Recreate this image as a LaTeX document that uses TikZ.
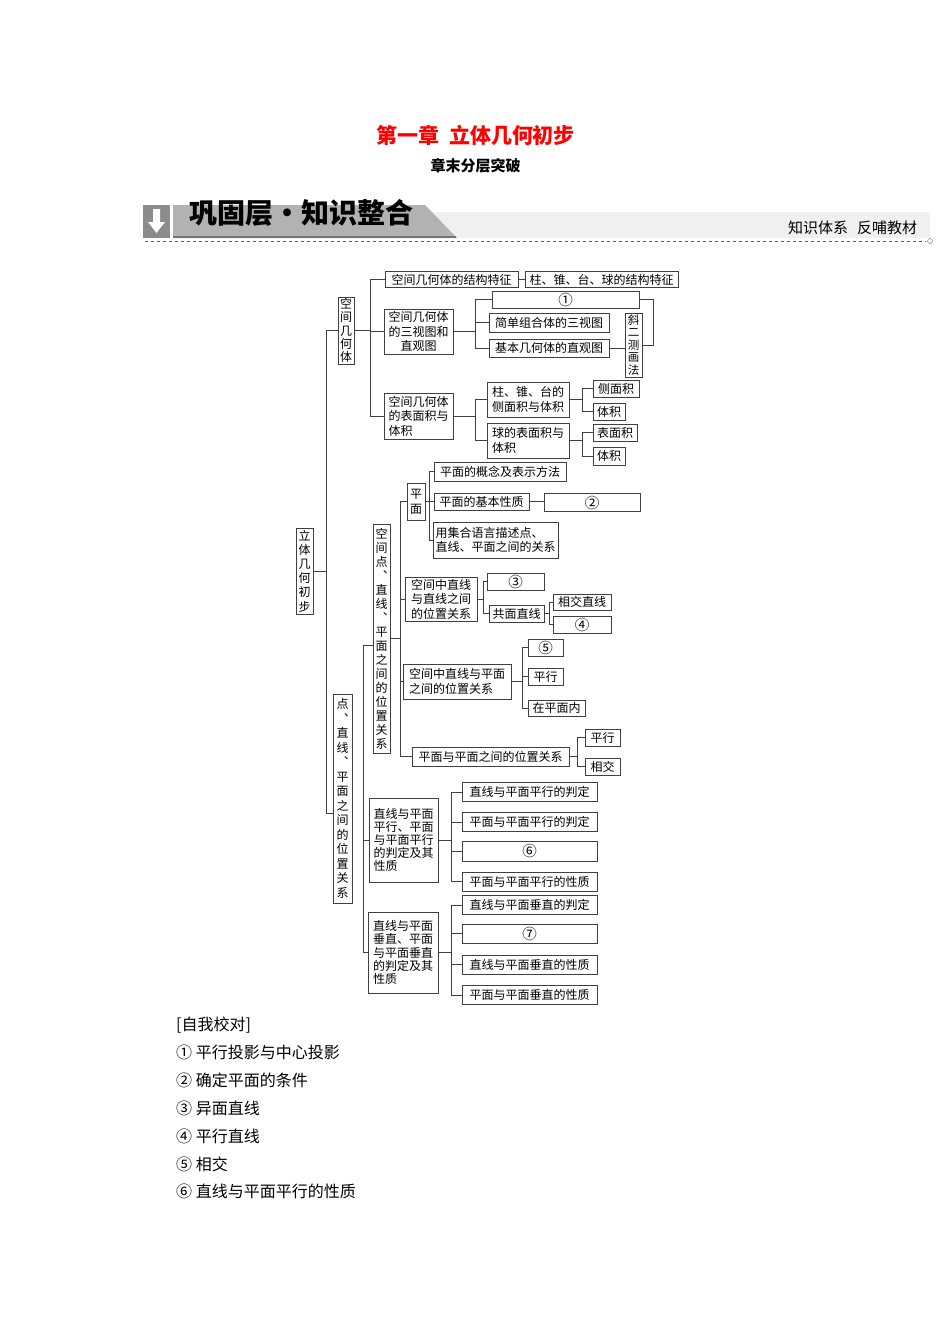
\documentclass[tikz,border=0pt]{standalone}
\usepackage{fontspec}
\setmainfont{Noto Sans CJK SC}
\tikzset{
    kbox/.style={draw=black!75, line width=0.8pt, inner sep=1pt, align=center, font=\fontsize{12}{14.5}\selectfont},
    lbox/.style={kbox, align=left},
    nbox/.style={kbox, font=\fontsize{14.5}{15}\selectfont},
    link/.style={draw=black!75, line width=0.8pt},
}
\begin{document}
\begin{tikzpicture}[x=1pt, y=-1pt]
        \fill[white] (0,0) rectangle (950,1344);
        \useasboundingbox (0,0) rectangle (950,1344);
        \node[red, font=\fontsize{21}{24}\selectfont\bfseries] (title) at (475.5,135) {第一章\hspace{10pt}立体几何初步};
        \node[font=\fontsize{15}{18}\selectfont\bfseries] (subtitle) at (475.5,166) {章末分层突破};
        \fill[black!6] (430,212) rectangle (930,238);
        \fill[black!45] (143,205) rectangle (170,238);
        \fill[white] (153,209) -- (160,209) -- (160,222) -- (165,222) -- (156.5,233) -- (148,222) -- (153,222) -- cycle;
        \fill[black!30] (173,205) -- (425,205) -- (457,238) -- (173,238) -- cycle;
        \draw[black!55, line width=1.5pt] (173,237) -- (456,237);
        \node[font=\fontsize{28}{30}\selectfont\bfseries] (band) at (301.5,213) {巩固层・知识整合};
        \draw[black!60, dashed, line width=0.8pt] (145,241) -- (926,241);
        \draw[black!60] (930,241) circle (2.5);
        \node[font=\fontsize{15}{17}\selectfont] (tixi) at (852.5,228) {知识体系\hspace{9pt}反哺教材};
        \node[kbox, minimum width=17pt, minimum height=86pt, font=\fontsize{12}{14.2}\selectfont] (ltj) at (304.5,571) {立\\体\\几\\何\\初\\步};
        \node[kbox, minimum width=16pt, minimum height=67pt, font=\fontsize{12}{13.2}\selectfont] (kjj) at (346,330.5) {空\\间\\几\\何\\体};
        \node[kbox, minimum width=133pt, minimum height=16pt] (jgtz) at (451.5,279.5) {空间几何体的结构特征};
        \node[kbox, minimum width=153pt, minimum height=16pt] (zhu) at (601.5,279.5) {柱、锥、台、球的结构特征};
        \node[kbox, minimum width=69pt, minimum height=45pt] (sst) at (418.5,331.5) {空间几何体\\的三视图和\\直观图};
        \node[nbox, minimum width=147pt, minimum height=17pt] (n1) at (565.5,299.5) {①};
        \node[kbox, minimum width=120pt, minimum height=19pt] (jdzh) at (549,322.5) {简单组合体的三视图};
        \node[kbox, minimum width=120pt, minimum height=18pt] (jbjh) at (549,348) {基本几何体的直观图};
        \node[kbox, minimum width=17pt, minimum height=64pt, font=\fontsize{11.5}{12.4}\selectfont] (xie) at (633.5,345) {斜\\二\\测\\画\\法};
        \node[lbox, minimum width=69pt, minimum height=46pt] (bmj) at (418.5,416) {空间几何体\\的表面积与\\体积};
        \node[kbox, minimum width=82pt, minimum height=35pt, font=\fontsize{12}{15}\selectfont] (zzt) at (528,399.5) {柱、锥、台的\\侧面积与体积};
        \node[lbox, minimum width=82pt, minimum height=35pt, font=\fontsize{12}{15}\selectfont] (qbm) at (528,440.5) {球的表面积与\\体积};
        \node[kbox, minimum width=46pt, minimum height=17pt] (cmj) at (616,388.5) {侧面积};
        \node[kbox, minimum width=32pt, minimum height=17pt] (tja) at (609,411.5) {体积};
        \node[kbox, minimum width=44pt, minimum height=17pt] (bmja) at (615,432.5) {表面积};
        \node[kbox, minimum width=32pt, minimum height=18pt] (tjb) at (609,456) {体积};
        \node[kbox, minimum width=17pt, minimum height=229pt, font=\fontsize{12}{14}\selectfont] (kjd) at (381.5,638.5) {空\\间\\点\\︑\\直\\线\\︑\\平\\面\\之\\间\\的\\位\\置\\关\\系};
        \node[kbox, minimum width=18pt, minimum height=37pt, font=\fontsize{12}{15}\selectfont] (pm) at (416,501.5) {平\\面};
        \node[kbox, minimum width=132pt, minimum height=19pt] (gn) at (500,471.5) {平面的概念及表示方法};
        \node[kbox, minimum width=95pt, minimum height=17pt] (xz) at (481.5,501.5) {平面的基本性质};
        \node[nbox, minimum width=96pt, minimum height=18pt] (n2) at (592,502.5) {②};
        \node[lbox, minimum width=125pt, minimum height=36pt] (jh) at (495.5,540) {用集合语言描述点、\\直线、平面之间的关系};
        \node[kbox, minimum width=72pt, minimum height=44pt] (zz) at (441,599) {空间中直线\\与直线之间\\的位置关系};
        \node[nbox, minimum width=57pt, minimum height=17pt] (n3) at (515.5,581.5) {③};
        \node[kbox, minimum width=55pt, minimum height=17pt] (gm) at (516.5,613.5) {共面直线};
        \node[kbox, minimum width=58pt, minimum height=16pt] (xjzx) at (582,602) {相交直线};
        \node[nbox, minimum width=58pt, minimum height=17pt] (n4) at (582,624.5) {④};
        \node[lbox, minimum width=108pt, minimum height=35pt, font=\fontsize{12}{14.3}\selectfont] (zp) at (457,681.5) {空间中直线与平面\\之间的位置关系};
        \node[nbox, minimum width=35pt, minimum height=17pt] (n5) at (545.5,647.5) {⑤};
        \node[kbox, minimum width=35pt, minimum height=17pt] (pxa) at (545.5,676.5) {平行};
        \node[kbox, minimum width=57pt, minimum height=16pt] (zpn) at (556.5,708) {在平面内};
        \node[kbox, minimum width=157pt, minimum height=19pt] (pp) at (490.5,756.5) {平面与平面之间的位置关系};
        \node[kbox, minimum width=35pt, minimum height=17pt] (pxc) at (602.5,737.5) {平行};
        \node[kbox, minimum width=35pt, minimum height=17pt] (xjm) at (602.5,766.5) {相交};
        \node[kbox, minimum width=19pt, minimum height=209pt, font=\fontsize{12}{14.5}\selectfont] (dmb) at (342.5,798.5) {点\\︑\\直\\线\\︑\\平\\面\\之\\间\\的\\位\\置\\关\\系};
        \node[lbox, minimum width=69pt, minimum height=84pt, font=\fontsize{12}{13.2}\selectfont] (pxb) at (403.5,840) {直线与平面\\平行、平面\\与平面平行\\的判定及其\\性质};
        \node[lbox, minimum width=70pt, minimum height=81pt, font=\fontsize{12}{13.2}\selectfont] (czb) at (403,952.5) {直线与平面\\垂直、平面\\与平面垂直\\的判定及其\\性质};
        \foreach \n/\y/\t in {pa1/792/直线与平面平行的判定, pa2/822/平面与平面平行的判定, pa4/881.5/平面与平面平行的性质}
            \node[kbox, minimum width=135pt, minimum height=19pt] (\n) at (529.5,\y) {\t};
        \node[nbox, minimum width=135pt, minimum height=20pt] (pa3) at (529.5,851) {⑥};
        \foreach \n/\y/\t in {cz1/905/直线与平面垂直的判定, cz3/964.5/直线与平面垂直的性质, cz4/995/平面与平面垂直的性质}
            \node[kbox, minimum width=135pt, minimum height=19pt] (\n) at (529.5,\y) {\t};
        \node[nbox, minimum width=135pt, minimum height=19pt] (cz2) at (529.5,933.5) {⑦};
        \coordinate (sp1) at (326,0);
        \coordinate (sp2) at (370,0);
        \coordinate (sp3) at (475,0);
        \coordinate (sp4) at (653,0);
        \coordinate (sp5) at (582,0);
        \coordinate (sp6) at (363,0);
        \coordinate (sp7) at (400,0);
        \coordinate (sp8) at (429,0);
        \coordinate (sp9) at (483,0);
        \coordinate (sp10) at (549,0);
        \coordinate (sp11) at (522,0);
        \coordinate (sp12) at (577,0);
        \coordinate (sp13) at (451,0);
        \draw[link] (ltj.east) -- (ltj.east -| sp1) |- (kjj.west);
        \draw[link] (ltj.east -| sp1) |- ([yshift=-15pt]dmb.west);
        \foreach \c in {jgtz, sst, bmj}
            \draw[link] (kjj.east) -- (kjj.east -| sp2) |- (\c.west);
        \draw[link] (jgtz.east) -- (zhu.west);
        \foreach \c in {n1, jdzh, jbjh}
            \draw[link] (sst.east) -- (sst.east -| sp3) |- (\c.west);
        \draw[link] (jbjh.east) -- (jbjh.east -| xie.west);
        \draw[link] (n1.east) -- (n1.east -| sp4) |- (xie.east);
        \foreach \c in {zzt, qbm}
            \draw[link] (bmj.east) -- (bmj.east -| sp3) |- (\c.west);
        \foreach \c in {cmj, tja}
            \draw[link] (zzt.east) -- (zzt.east -| sp5) |- (\c.west);
        \foreach \c in {bmja, tjb}
            \draw[link] (qbm.east) -- (qbm.east -| sp5) |- (\c.west);
        \draw[link] ([yshift=-7pt]kjd.west) -- ([yshift=-7pt]kjd.west -| sp6) |- (czb.west);
        \draw[link] (pxb.west) -- (pxb.west -| sp6);
        \foreach \c in {pm, zz, zp, pp}
            \draw[link] (kjd.east) -- (kjd.east -| sp7) |- (\c.west);
        \foreach \c in {gn, xz, jh}
            \draw[link] (pm.east) -- (pm.east -| sp8) |- (\c.west);
        \draw[link] (xz.east) -- (xz.east -| n2.west);
        \foreach \c in {n3, gm}
            \draw[link] (zz.east) -- (zz.east -| sp9) |- (\c.west);
        \foreach \c in {xjzx, n4}
            \draw[link] (gm.east) -- (gm.east -| sp10) |- (\c.west);
        \foreach \c in {n5, pxa, zpn}
            \draw[link] (zp.east) -- (zp.east -| sp11) |- (\c.west);
        \foreach \c in {pxc, xjm}
            \draw[link] (pp.east) -- (pp.east -| sp12) |- (\c.west);
        \foreach \c in {pa1, pa2, pa3, pa4}
            \draw[link] (pxb.east) -- (pxb.east -| sp13) |- (\c.west);
        \foreach \c in {cz1, cz2, cz3, cz4}
            \draw[link] (czb.east) -- (czb.east -| sp13) |- (\c.west);
        \foreach \t [count=\i from 0] in {{[自我校对]}, ①\ 平行投影与中心投影, ②\ 确定平面的条件, ③\ 异面直线, ④\ 平行直线, ⑤\ 相交, ⑥\ 直线与平面平行的性质}
            \node[anchor=west, inner sep=0pt, font=\fontsize{16}{18}\selectfont] (note\i) at (176,{1025+27.8*\i}) {\t};
\end{tikzpicture}
\end{document}
